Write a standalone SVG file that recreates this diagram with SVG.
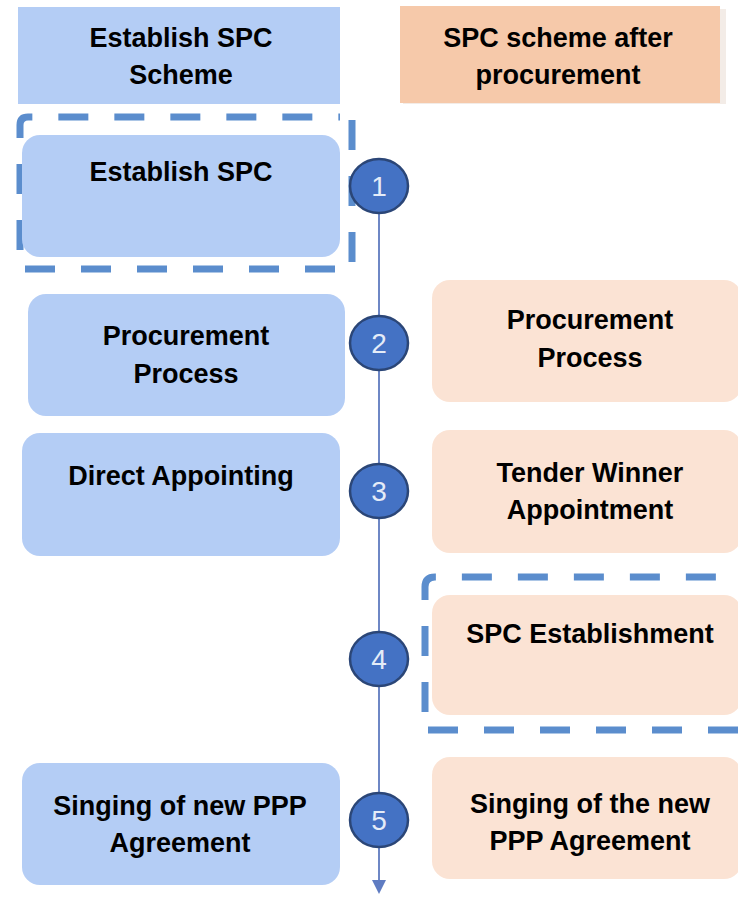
<svg xmlns="http://www.w3.org/2000/svg" width="738" height="900" viewBox="0 0 738 900">
<defs>
<style>
.t{font-family:"Liberation Sans",Arial,sans-serif;font-weight:bold;font-size:27px;fill:#000;text-anchor:middle}
.n{font-family:"Liberation Sans",Arial,sans-serif;font-size:28px;fill:#e4ecf8;text-anchor:middle}
.blue{fill:#b4cdf5}
.peach{fill:#fbe3d4}
.dash{fill:none;stroke:#5b8dcd;stroke-width:7;stroke-dasharray:30 26}
.circ{fill:#4472c4;stroke:#2b4677;stroke-width:2.5}
.line{stroke:#6e87c5;stroke-width:2;fill:none}
</style>
<marker id="arr" markerWidth="8" markerHeight="8" refX="4" refY="4" orient="auto" markerUnits="userSpaceOnUse" viewBox="0 0 8 8">
<path d="M0,0 L8,4 L0,8 z" fill="#5f7cc2"/>
</marker>
</defs>
<rect width="738" height="900" fill="#ffffff"/>

<g id="connectors">
<line class="line" x1="379" y1="200" x2="379" y2="886" marker-end="url(#arr)"/>
<path d="M372,880 L386,880 L379,894 z" fill="#5f7cc2"/>
</g>

<g id="header-left">
<rect class="blue" x="18" y="7" width="322" height="97"/>
<text class="t" x="181" y="47">Establish SPC</text>
<text class="t" x="181" y="84">Scheme</text>
</g>
<g id="header-right">
<rect x="403" y="9" width="323" height="95" fill="#f3ece7"/>
<rect x="400" y="6" width="320" height="97" fill="#f6c9aa"/>
<text class="t" x="558" y="47">SPC scheme after</text>
<text class="t" x="558" y="84">procurement</text>
</g>

<g id="step1-left">
<path class="dash" d="M20,250 L20,125 Q20,117 28,117 L340,117 M352,120 L352,262 M335,269 L24,269"/>
<rect class="blue" x="22" y="135" width="318" height="122" rx="18"/>
<text class="t" x="181" y="181">Establish SPC</text>
</g>

<g id="step2-left">
<rect class="blue" x="28" y="294" width="317" height="122" rx="18"/>
<text class="t" x="186" y="345">Procurement</text>
<text class="t" x="186" y="383">Process</text>
</g>
<g id="step2-right">
<rect class="peach" x="432" y="280" width="310" height="122" rx="18"/>
<text class="t" x="590" y="329">Procurement</text>
<text class="t" x="590" y="367">Process</text>
</g>

<g id="step3-left">
<rect class="blue" x="22" y="433" width="318" height="123" rx="18"/>
<text class="t" x="181" y="485">Direct Appointing</text>
</g>
<g id="step3-right">
<rect class="peach" x="432" y="430" width="310" height="123" rx="18"/>
<text class="t" x="590" y="482">Tender Winner</text>
<text class="t" x="590" y="519">Appointment</text>
</g>

<g id="step4-right">
<path class="dash" d="M425,712 L425,587 Q425,577 435,577 L740,577 M428,730 L740,730"/>
<rect class="peach" x="432" y="595" width="310" height="120" rx="18"/>
<text class="t" x="590" y="643">SPC Establishment</text>
</g>

<g id="step5-left">
<rect class="blue" x="22" y="763" width="318" height="122" rx="18"/>
<text class="t" x="180" y="815">Singing of new PPP</text>
<text class="t" x="180" y="852">Agreement</text>
</g>
<g id="step5-right">
<rect class="peach" x="432" y="757" width="310" height="122" rx="18"/>
<text class="t" x="590" y="813">Singing of the new</text>
<text class="t" x="590" y="850">PPP Agreement</text>
</g>

<g id="marker1"><ellipse class="circ" cx="379" cy="186" rx="29" ry="27"/><text class="n" x="379" y="196">1</text></g>
<g id="marker2"><ellipse class="circ" cx="379" cy="343" rx="29" ry="27"/><text class="n" x="379" y="353">2</text></g>
<g id="marker3"><ellipse class="circ" cx="379" cy="491" rx="29" ry="27"/><text class="n" x="379" y="501">3</text></g>
<g id="marker4"><ellipse class="circ" cx="379" cy="659" rx="29" ry="27"/><text class="n" x="379" y="669">4</text></g>
<g id="marker5"><ellipse class="circ" cx="379" cy="820" rx="29" ry="27"/><text class="n" x="379" y="830">5</text></g>
</svg>
